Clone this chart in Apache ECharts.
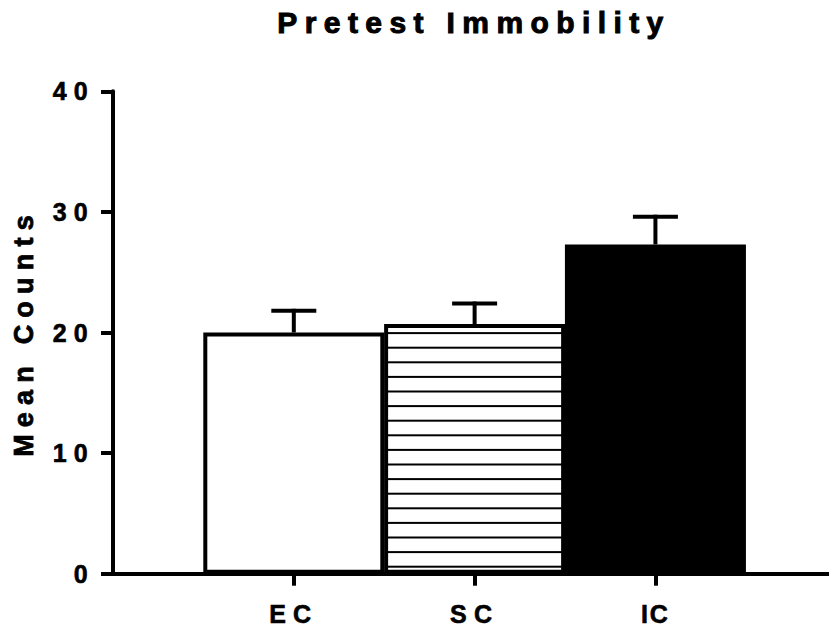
<!DOCTYPE html>
<html>
<head>
<meta charset="utf-8">
<script src="https://cdn.jsdelivr.net/npm/echarts@6/dist/echarts.min.js"></script>
<style>
html,body{margin:0;padding:0;background:#fff;}
#chart{width:829px;height:634px;}
#chart text{letter-spacing:0.29em;}
</style>
</head>
<body>
<div id="chart"></div>
<script>
// ---- data ----
const categories = ['EC', 'SC', 'IC'];
const positions = [1, 2, 3];
const means = [20.0, 20.7, 27.3];
const sems = [1.8, 1.7, 2.3];
const yTicks = [0, 10, 20, 30, 40];
const titleText = 'Pretest Immobility';
const yName = 'Mean Counts';

// horizontal stripe pattern for SC
function stripes() {
  const c = document.createElement('canvas');
  c.width = 8; c.height = 73;
  const ctx = c.getContext('2d');
  ctx.fillStyle = '#fff';
  ctx.fillRect(0, 0, 8, 73);
  ctx.fillStyle = '#000';
  for (let k = 0; k < 5; k++) {
    const cy = 11.9 + k * 14.6;
    ctx.fillRect(0, cy - 1, 8, 2);
  }
  return c;
}

const fills = ['#ffffff', { image: stripes(), repeat: 'repeat' }, '#000000'];
const font = 'Liberation Sans';

const chart = echarts.init(document.getElementById('chart'), null, { renderer: 'svg' });
chart.setOption({
  animation: false,
  backgroundColor: '#fff',
  title: {
    text: titleText,
    left: 469, top: 2, textAlign: 'center',
    textStyle: { fontFamily: font, fontSize: 30, fontWeight: 'bold', color: '#000',
      textBorderColor: '#000', textBorderWidth: 1 }
  },
  grid: { left: 113, right: 0, top: 91.3, bottom: 60.3 },
  xAxis: {
    type: 'value', min: 0, max: 3.96,
    splitLine: { show: false },
    axisLine: { lineStyle: { color: '#000', width: 4 } },
    axisTick: { show: true, customValues: positions, length: 12, lineStyle: { color: '#000', width: 4 } },
    axisLabel: {
      customValues: positions,
      formatter: v => categories[positions.indexOf(Math.round(v))] || '',
      margin: 28, color: '#000', fontFamily: font, fontSize: 25, fontWeight: 'bold',
      textBorderColor: '#000', textBorderWidth: 0.6
    }
  },
  yAxis: {
    type: 'value', min: yTicks[0], max: yTicks[yTicks.length - 1], interval: 10,
    name: yName, nameLocation: 'middle', nameGap: 76,
    nameTextStyle: { fontFamily: font, fontSize: 27, fontWeight: 'bold', color: '#000',
      textBorderColor: '#000', textBorderWidth: 0.8 },
    splitLine: { show: false },
    axisLine: { show: true, lineStyle: { color: '#000', width: 4 } },
    axisTick: { show: true, length: 12, lineStyle: { color: '#000', width: 4 } },
    axisLabel: { margin: 18, color: '#000', fontFamily: font, fontSize: 25, fontWeight: 'bold',
      textBorderColor: '#000', textBorderWidth: 0.6 }
  },
  series: [
    {
      type: 'bar',
      barWidth: 181,
      data: positions.map((p, i) => ({
        value: [p, means[i]],
        itemStyle: { color: fills[i], borderColor: '#000', borderWidth: 4 }
      }))
    },
    {
      type: 'custom',
      data: positions.map((p, i) => [p, means[i], sems[i]]),
      renderItem: function (params, api) {
        const x = api.value(0), m = api.value(1), e = api.value(2);
        const p0 = api.coord([x, m]);
        const p1 = api.coord([x, m + e]);
        const st = { stroke: '#000', lineWidth: 4 };
        return {
          type: 'group',
          children: [
            { type: 'line', shape: { x1: p0[0], y1: p0[1], x2: p1[0], y2: p1[1] - 2 }, style: st },
            { type: 'line', shape: { x1: p1[0] - 22.5, y1: p1[1], x2: p1[0] + 22.5, y2: p1[1] }, style: st }
          ]
        };
      },
      z: 3
    }
  ]
});

function spacing() {
  document.querySelectorAll('#chart svg text').forEach(t => {
    const s = t.textContent;
    if (s === titleText) t.style.letterSpacing = '7.4px';
    else if (s === yName) t.style.letterSpacing = '7.2px';
    else if (s === 'IC') t.style.letterSpacing = '2px';
  });
}
spacing();
chart.on('finished', spacing);
</script>
</body>
</html>
